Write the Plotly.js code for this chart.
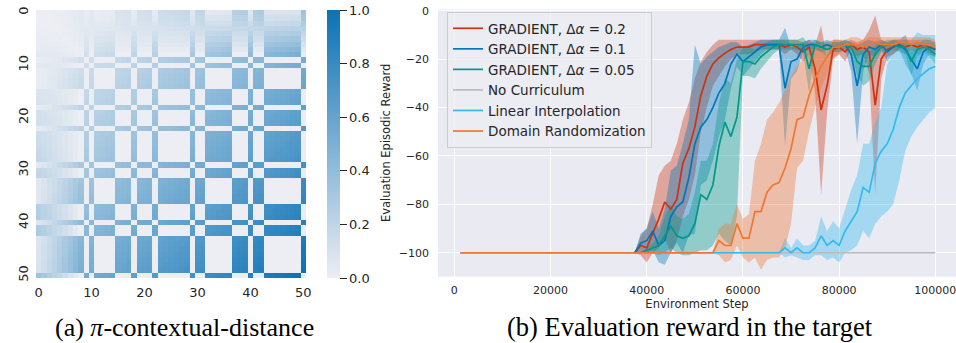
<!DOCTYPE html>
<html><head><meta charset="utf-8">
<script src="https://cdn.plot.ly/plotly-3.0.1.min.js"></script>
<style>html,body{margin:0;padding:0;background:#fff;} #plot{width:956px;height:343px;}</style>
</head><body><div id="plot"></div>
<script>
// ---------- (a) heatmap data ----------
const heatIndex = [0,1,2,3,4,5,6,7,8,9,10,11,12,13,14,15,16,17,18,19,20,21,22,23,24,25,26,27,28,29,30,31,32,33,34,35,36,37,38,39,40,41,42,43,44,45,46,47,48,49,50];
// per-context level
const contextLevel = [0.8,0.7,0.6,0.5,0.4,0.3,0.2,0.1,0.0, 1, 0, 1, 1,1,1, 0,0,0, 1, 0,0,0, 1, 0,0,0,0,0,0, 1, 0,0, 1,1,1,1,1, 0,0,0, 1, 0, 0, 1,1,1,1,1,1,1, 0];
const heatTicks = [0,10,20,30,40,50];
const cbTicks = [0,0.2,0.4,0.6,0.8,1.0];
const cbTickText = ['0.0','0.2','0.4','0.6','0.8','1.0'];

// ---------- (b) line chart data ----------
const stepsGrad = [37500,38750,40000,41250,42500,43750,45000,46250,47500,48750,50000,51250,52500,53750,55000,56250,57500,58750,60000,61250,62500,63750,65000,66250,67500,68750,70000,71250,72500,73750,75000,76250,77500,78750,80000,81250,82500,83750,85000,86250,87500,88750,90000,91250,92500,93750,95000,96250,97500,98750,100000];
const g02Mean = [-100,-97,-98,-92,-86,-79,-82,-78,-63,-57,-48,-35,-27,-22,-19.5,-17.5,-16,-15,-15,-15,-14,-14,-14,-14,-14,-15,-14,-15,-17,-15,-24,-41,-31,-16,-15,-17,-14,-16,-15,-17,-39,-20,-16,-15,-14,-15,-14,-15,-14,-15,-16];
const g02Hi = [-100,-93,-90,-80,-68,-64,-62,-55,-45,-38,-28,-21,-17,-14,-12,-12,-12,-12,-12,-12,-12,-12,-12,-12,-12,-12,-12,-12,-13,-12,-14,-6,-20,-12,-12,-13,-12,-13,-12,-8,-2,-12,-13,-12,-12,-12,-12,-12,-12,-12,-13];
const g02Lo = [-100,-101,-104,-100,-98,-94,-100,-95,-85,-78,-68,-50,-40,-31,-27,-23,-20,-18,-18,-18,-17,-16,-16,-16,-16,-18,-16,-18,-21,-18,-34,-76,-42,-20,-18,-21,-16,-19,-18,-26,-76,-28,-19,-18,-16,-18,-16,-18,-16,-18,-19];
const g01Mean = [-100,-96,-95,-91,-97,-95,-85,-81,-79,-69,-55,-48,-45,-40,-34,-30,-22,-18,-21,-19,-17,-15,-14,-14,-14,-32,-21,-20,-15,-14,-14,-15,-14,-15,-15,-14,-18,-31,-18,-15,-16,-14,-17,-15,-14,-16,-20,-24,-17,-15,-16];
const g01Hi = [-100,-92,-90,-83,-90,-82,-66,-64,-55,-45,-14,-22,-19,-17,-15,-14,-13,-13,-15,-14,-13,-12,-12,-12,-12,-7,-15,-15,-13,-12,-12,-13,-12,-13,-13,-12,-13,-14,-13,-12,-13,-12,-13,-12,-12,-10,-15,-14,-12,-12,-13];
const g01Lo = [-100,-100,-100,-99,-104,-105,-100,-96,-100,-93,-92,-72,-70,-62,-52,-45,-32,-23,-27,-24,-21,-18,-16,-16,-16,-56,-28,-25,-17,-16,-16,-17,-16,-17,-17,-16,-25,-55,-25,-18,-19,-16,-21,-18,-16,-22,-26,-33,-22,-18,-19];
const g005Mean = [-100,-100,-99,-98,-97,-93,-89,-93,-94,-93,-88,-76,-78,-72,-56,-46,-52,-44,-21,-21,-22,-19,-17,-15,-14,-14,-14,-14,-14,-24,-14,-15,-16,-15,-15,-14,-15,-21,-23,-23,-18,-15,-14,-14,-15,-15,-21,-16,-15,-16,-18];
const g005Hi = [-100,-100,-98,-96,-93,-85,-80,-85,-86,-84,-75,-62,-62,-55,-38,-28,-30,-20,-15,-15,-16,-14,-13,-12,-12,-12,-12,-12,-11,-14,-12,-13,-13,-13,-13,-12,-13,-15,-15,-17,-14,-13,-12,-12,-13,-12,-15,-13,-13,-13,-14];
const g005Lo = [-100,-100,-100,-100,-101,-100,-98,-100,-101,-101,-100,-99,-99,-97,-92,-95,-97,-85,-27,-27,-28,-24,-21,-18,-16,-16,-16,-16,-17,-34,-16,-17,-19,-17,-17,-16,-17,-27,-31,-29,-22,-17,-16,-16,-17,-18,-27,-19,-17,-19,-22];

const stepsNoCur = [1250,100000];
const noCurMean = [-100,-100];

const stepsLin = [1250,67500,68750,70000,71250,72500,73750,75000,76250,77500,78750,80000,81250,82500,83750,85000,86250,87500,88750,90000,91250,92500,93750,95000,96250,97500,98750,100000];
const linMean = [-100,-100,-98,-100,-98,-100,-100,-98,-93,-97,-95,-97,-91,-87,-83,-73,-75,-63,-58,-55,-49,-40,-34,-31,-28,-26,-24,-23];
const linHi = [-100,-100,-94,-98,-94,-97,-97,-95,-85,-91,-87,-90,-82,-74,-68,-55,-55,-46,-40,-22,-18,-16,-14,-12,-9,-10,-10,-10];
const linLo = [-100,-100,-102,-101,-102,-103,-103,-101,-101,-103,-102,-104,-100,-99,-97,-91,-94,-88,-85,-83,-80,-70,-58,-52,-48,-45,-42,-40];

const stepsDR = [1250,53750,55000,56250,57500,58750,60000,61250,62500,63750,65000,66250,67500,68750,70000,71250,72500,73750,75000,76250,77500,78750,80000,81250,82500,83750,85000,86250,87500,88750,90000,91250,92500,93750,95000,96250,97500,98750,100000];
const drMean = [-100,-100,-95,-97,-97,-88,-94,-94,-83,-83,-75,-72,-71,-65,-57,-45,-44,-35,-28,-23,-19,-15,-15,-14,-14,-14,-15,-14,-13,-14,-14,-14,-13,-13,-14,-13,-14,-14,-15];
const drHi = [-100,-100,-90,-88,-88,-80,-86,-84,-62,-55,-45,-42,-38,-33,-27,-23,-20,-17,-15,-14,-13,-12,-12,-12,-11,-11,-12,-11,-11,-11,-11,-11,-11,-11,-11,-11,-11,-11,-12];
const drLo = [-100,-100,-101,-104,-103,-97,-102,-104,-102,-107,-103,-102,-102,-98,-88,-65,-62,-50,-40,-32,-26,-19,-18,-16,-16,-16,-17,-16,-15,-16,-16,-16,-15,-15,-16,-15,-16,-16,-17];

const seriesNames = ['GRADIENT, Δ<i>α</i> = 0.2','GRADIENT, Δ<i>α</i> = 0.1','GRADIENT, Δ<i>α</i> = 0.05','No Curriculum','Linear Interpolation','Domain Randomization'];
const xTicks = [0,20000,40000,60000,80000,100000];
const yTicks = [0,-20,-40,-60,-80,-100];

// ---------- build ----------
const z = contextLevel.map((vi,i)=>contextLevel.map((vj,j)=>Math.abs(vi-vj)*Math.pow((i+j)/100,1.2)));

const traces = [];
traces.push({
  type:'heatmap', x:heatIndex, y:heatIndex, z:z, xaxis:'x', yaxis:'y',
  zmin:0, zmax:1,
  colorscale:[[0,'#eceef3'],[1,'#0b72b5']],
  xgap:0, ygap:0, showscale:true,
  colorbar:{x:327/956, xanchor:'left', xref:'paper', xpad:0, ypad:0,
    y:1-10/343, yanchor:'top', len:268/343, lenmode:'fraction', thickness:13,
    outlinewidth:0, ticks:'outside', ticklen:7, tickwidth:1, tickcolor:'#262626',
    tickvals:cbTicks, ticktext:cbTickText, tickfont:{size:13,color:'#262626'},
    title:{text:''}}
});

const colors = ['#CC3311','#0077BB','#009988','#BBBBBB','#33BBEE','#EE7733'];
const bandFill = ['rgba(204,51,17,0.38)','rgba(0,119,187,0.38)','rgba(0,153,136,0.38)','','rgba(51,187,238,0.38)','rgba(238,119,51,0.38)'];
const bands = [
  [stepsGrad,g02Lo,g02Hi,0],[stepsGrad,g01Lo,g01Hi,1],[stepsGrad,g005Lo,g005Hi,2],
  [stepsLin,linLo,linHi,4],[stepsDR,drLo,drHi,5]
];
bands.forEach(([xs,lo,hi,c])=>{
  traces.push({type:'scatter',mode:'lines',x:xs,y:lo,xaxis:'x2',yaxis:'y2',line:{width:0,color:colors[c]},showlegend:false,hoverinfo:'skip'});
  traces.push({type:'scatter',mode:'lines',x:xs,y:hi,xaxis:'x2',yaxis:'y2',line:{width:0,color:colors[c]},fill:'tonexty',fillcolor:bandFill[c],showlegend:false,hoverinfo:'skip'});
});
const lines = [[stepsGrad,g02Mean],[stepsGrad,g01Mean],[stepsGrad,g005Mean],[stepsNoCur,noCurMean],[stepsLin,linMean],[stepsDR,drMean]];
lines.forEach(([xs,ys],k)=>{
  traces.push({type:'scatter',mode:'lines',x:xs,y:ys,xaxis:'x2',yaxis:'y2',name:seriesNames[k],line:{width:1.7,color:colors[k]}});
});

const axFont = {family:'DejaVu Sans',size:13,color:'#262626'};
const layout = {
  width:956, height:343, margin:{l:0,r:0,t:0,b:0},
  paper_bgcolor:'#ffffff', plot_bgcolor:'#EAEAF2',
  font:{family:'DejaVu Sans',color:'#262626'},
  showlegend:true,
  xaxis:{domain:[36/956,306/956], range:[-0.5,50.5], anchor:'y', tickvals:heatTicks, showgrid:false, zeroline:false, showline:false, ticks:'', tickfont:axFont, ticklabelstandoff:5},
  yaxis:{domain:[1-278/343,1-10/343], range:[50.5,-0.5], anchor:'x', tickvals:heatTicks, tickangle:-90, showgrid:false, zeroline:false, showline:false, ticks:'', tickfont:axFont, ticklabelstandoff:4},
  xaxis2:{domain:[438/956,1], range:[-3400,104300], anchor:'y2', tickvals:xTicks, tickformat:'d', showgrid:true, gridcolor:'#ffffff', gridwidth:1, zeroline:false, showline:false, ticks:'', tickfont:{size:11,color:'#262626'}, ticklabelstandoff:5, ticklabeloverflow:'allow',
    title:{text:'Environment Step', font:{size:11.5,color:'#262626'}, standoff:4}},
  yaxis2:{domain:[1-276.7/343,1-9.3/343], range:[-109.9,0.6], anchor:'x2', tickvals:yTicks, showgrid:true, gridcolor:'#ffffff', gridwidth:1, zeroline:false, showline:false, ticks:'', tickfont:{size:11,color:'#262626'}, ticklabelstandoff:8},
  legend:{x:447/956, y:1-12/343, xanchor:'left', yanchor:'top', traceorder:'normal', bgcolor:'rgba(236,236,243,0.8)', bordercolor:'#cccccc', borderwidth:1, font:{size:13.5,color:'#262626'}, tracegroupgap:0},
  annotations:[
    {text:'Evaluation Episodic Reward', xref:'paper', yref:'paper', x:386/956, y:1-143/343, xanchor:'center', yanchor:'middle', textangle:-90, showarrow:false, font:{family:'DejaVu Sans', size:11.5, color:'#262626'}},
    {text:'(a) <i>π</i>-contextual-distance', xref:'paper', yref:'paper', x:184/956, y:0.5/343, xanchor:'center', yanchor:'bottom', borderpad:0, showarrow:false, font:{family:'Liberation Serif', size:26, color:'#000'}},
    {text:'(b) Evaluation reward in the target', xref:'paper', yref:'paper', x:690/956, y:0.5/343, xanchor:'center', yanchor:'bottom', borderpad:0, showarrow:false, font:{family:'Liberation Serif', size:26.5, color:'#000'}}
  ]
};
Plotly.newPlot('plot', traces, layout, {staticPlot:true, displayModeBar:false});
</script>
</body></html>
